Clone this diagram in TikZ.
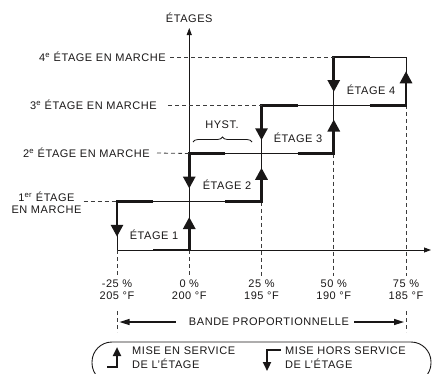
\documentclass[tikz,border=0pt]{standalone}
\usepackage{fontspec}
\setmainfont{Liberation Sans}[LetterSpace=5]
\usepackage{tikz}
\usetikzlibrary{positioning,arrows.meta,calc,decorations.pathreplacing}
\definecolor{inkgray}{RGB}{25,23,23}
\definecolor{guidegray}{RGB}{60,60,60}
\tikzset{
  gridline/.style  = {line width=0.8pt, draw=inkgray},
  axisline/.style  = {line width=0.8pt, draw=inkgray,
                      -{Triangle[length=7pt,width=5pt]}},
  guideline/.style = {line width=0.8pt, draw=guidegray,
                      dash pattern=on 4pt off 3pt},
  stagepath/.style = {line width=2.8pt, draw=inkgray, line join=miter,
                      -{Triangle[length=12pt,width=12pt]}},
  legpath/.style   = {line width=2.2pt, draw=inkgray, line join=miter,
                      -{Triangle[length=9pt,width=8pt]}},
  bandarrow/.style = {line width=1.4pt, draw=inkgray,
                      -{Triangle[length=10pt,width=6pt]}},
  txt/.style       = {font=\fontsize{11}{12}\selectfont, text=inkgray, inner sep=1pt},
  legbox/.style    = {draw=inkgray, line width=0.9pt, rounded corners=20pt,
                      minimum width=339pt, minimum height=41pt}
}

\begin{document}
\begin{tikzpicture}[x=1pt, y=-1pt]
  \useasboundingbox (0,0) rectangle (433,373);
  % Level 0
  \coordinate (p00) at (117,250);    \coordinate (p10) at (189.25,250);
  % Level 1
  \coordinate (p01) at (117,201.75); \coordinate (p11) at (189.25,201.75);
  \coordinate (p21) at (261.5,201.75);
  % Level 2
  \coordinate (p12) at (189.25,153.5); \coordinate (p22) at (261.5,153.5);
  \coordinate (p32) at (333.75,153.5);
  % Level 3
  \coordinate (p23) at (261.5,105.25); \coordinate (p33) at (333.75,105.25);
  \coordinate (p43) at (406,105.25);
  % Level 4
  \coordinate (p34) at (333.75,57);  \coordinate (p44) at (406,57);
  % Axis ends and tick ends
  \coordinate (xend) at (431,250);   \coordinate (ytop) at (189.25,28);
  \coordinate (t0) at (117,276);     \coordinate (t1) at (189.25,276);
  \coordinate (t2) at (261.5,276);   \coordinate (t3) at (333.75,276);
  \coordinate (t4) at (406,276);

  % Thin step grid
  \draw[gridline] (p01)--(p21); \draw[gridline] (p12)--(p32);
  \draw[gridline] (p23)--(p43); \draw[gridline] (p34)--(p44);
  \draw[gridline] (p01)--(p00); \draw[gridline] (p21)--(p23);
  \draw[gridline] (p32)--(p34); \draw[gridline] (p43)--(p44);
  % Axes
  \draw[axisline] (p00)--(xend);
  \draw[axisline] (p10)--(ytop);
  \node[txt] (yname) at (189.25,18) {ÉTAGES};
  % Dashed guides below the steps
  \draw[guideline] (p00)--(t0); \draw[guideline] (p10)--(t1);
  \draw[guideline] (p21)--(t2); \draw[guideline] (p32)--(t3);
  \draw[guideline] (p43)--(t4);

  % Switching on (up) and off (down)
  \draw[stagepath] ($(p00)!0.5!(p10)$) -- (p10) -- ++(0,-33);
  \draw[stagepath] ($(p11)!0.5!(p21)$) -- (p21) -- ++(0,-34);
  \draw[stagepath] ($(p22)!0.5!(p32)$) -- (p32) -- ++(0,-34);
  \draw[stagepath] ($(p33)!0.5!(p43)$) -- (p43) -- ++(0,-34);
  \draw[stagepath] ($(p01)!0.5!(p11)$) -- (p01) -- ++(0,35);
  \draw[stagepath] ($(p12)!0.5!(p22)$) -- (p12) -- ++(0,35);
  \draw[stagepath] ($(p23)!0.5!(p33)$) -- (p23) -- ++(0,35);
  \draw[stagepath] ($(p34)!0.5!(p44)$) -- (p34) -- ++(0,35);
  % Stage names
  \node[txt] (e1) at (154,235) {ÉTAGE 1};
  \node[txt] (e2) at (227,185) {ÉTAGE 2};
  \node[txt] (e3) at (298,138) {ÉTAGE 3};
  \node[txt] (e4) at (371,90)  {ÉTAGE 4};

  % Level names on the left
  \node[txt, anchor=east] (n4) at (167,57)  {4\textsuperscript{e} ÉTAGE EN MARCHE};
  \node[txt, anchor=east] (n3) at (158,105.25) {3\textsuperscript{e} ÉTAGE EN MARCHE};
  \node[txt, anchor=east] (n2) at (151,153)  {2\textsuperscript{e} ÉTAGE EN MARCHE};
  \node[txt, align=center] (n1) at (46.5,203) {1\textsuperscript{er} ÉTAGE\\EN MARCHE};
  \draw[guideline] ([xshift=3pt]n4.east) -- (p34);
  \draw[guideline] ([xshift=10pt]n3.east) -- (p23);
  \draw[guideline] ([xshift=6pt]n2.east) -- (p12);
  \draw[guideline] ([xshift=1pt]n1.east |- p01) -- (p01);

  % Hysteresis
  \draw[gridline, decorate, decoration={brace, amplitude=5pt}]
    (193,142) -- (252,142);
  \node[txt] (hyst) at (222,125) {HYST.};

  % Scale
  \node[txt, align=center] (l0) at (117,289.5)    {-25 \%\\205 °F};
  \node[txt, align=center] (l1) at (189.25,289.5) {0 \%\\200 °F};
  \node[txt, align=center] (l2) at (261.5,289.5)  {25 \%\\195 °F};
  \node[txt, align=center] (l3) at (333.75,289.5) {50 \%\\190 °F};
  \node[txt, align=center] (l4) at (406,289.5)    {75 \%\\185 °F};
  % Proportional band
  \coordinate (k0) at (117,311); \coordinate (k0b) at (117,332);
  \coordinate (k4) at (406,311); \coordinate (k4b) at (406,332);
  \coordinate (bl) at (119.5,322); \coordinate (br) at (404,322);
  \draw[guideline] (k0)--(k0b); \draw[guideline] (k4)--(k4b);
  \node[txt] (band) at (269,322) {BANDE PROPORTIONNELLE};
  \draw[bandarrow] ([xshift=-12pt]band.west) -- (bl);
  \draw[bandarrow] ([xshift=4pt]band.east) -- (br);

  % Legend
  \node[legbox] (legend) at (261.5,362.5) {};
  \coordinate (lu0) at (107,367); \coordinate (lu1) at (117,367);
  \coordinate (lu2) at (117,347);
  \coordinate (ld0) at (281,350); \coordinate (ld1) at (267,350);
  \coordinate (ld2) at (267,371);
  \draw[legpath] (lu0) -- (lu1) -- (lu2);
  \draw[legpath] (ld0) -- (ld1) -- (ld2);
  \node[txt, align=left, anchor=west, font=\fontsize{11}{14.5}\selectfont]
    (lon) at (131,357.5) {MISE EN SERVICE\\DE L'ÉTAGE};
  \node[txt, align=left, anchor=west, font=\fontsize{11}{14.5}\selectfont]
    (loff) at (284,357.5) {MISE HORS SERVICE\\DE L'ÉTAGE};
\end{tikzpicture}
\end{document}
